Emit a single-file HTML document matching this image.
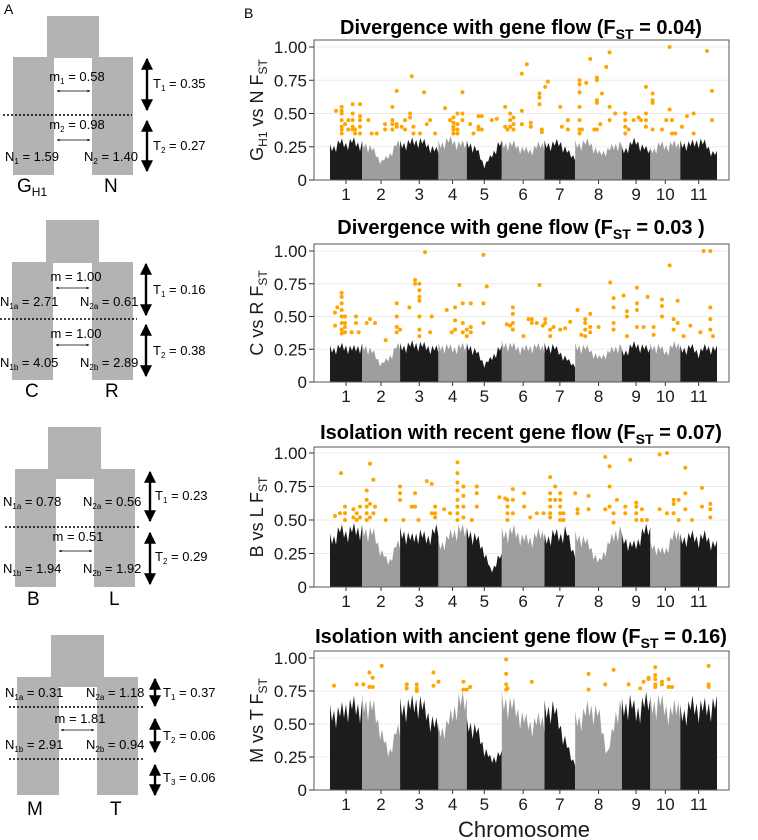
<!DOCTYPE html>
<html><head><meta charset="utf-8">
<style>
html,body{margin:0;padding:0;background:#fff;}
svg{display:block;font-family:"Liberation Sans",Arial,sans-serif;}
</style></head>
<body>
<svg id="fig" width="758" height="840" viewBox="0 0 758 840" xmlns="http://www.w3.org/2000/svg">
<defs>
<marker id="ah" viewBox="0 0 10 10" refX="8" refY="5" markerWidth="4" markerHeight="4" orient="auto-start-reverse"><path d="M0,1 L9,5 L0,9 z" fill="#000"/></marker>
<marker id="bh" viewBox="0 0 10 10" refX="9" refY="5" markerWidth="5" markerHeight="5" orient="auto-start-reverse"><path d="M0,0 L10,5 L0,10 z" fill="#000"/></marker>
</defs>
<text x="4" y="14" font-size="14">A</text>
<text x="244" y="18" font-size="14">B</text>

<g font-size="13">
<rect x="47" y="16" width="52" height="42" fill="#b3b3b3"/>
<rect x="13" y="57" width="41" height="118" fill="#b3b3b3"/>
<rect x="92" y="57" width="41" height="118" fill="#b3b3b3"/>
<line x1="3" y1="115" x2="132" y2="115" stroke="#000" stroke-width="1.6" stroke-dasharray="2,2"/>
<text x="77" y="81" text-anchor="middle">m<tspan font-size="8" dy="3">1</tspan><tspan dy="-3"> = 0.58</tspan></text>
<line x1="57" y1="91" x2="90" y2="91" stroke="#000" stroke-width="0.8" marker-start="url(#ah)" marker-end="url(#ah)"/>
<text x="77" y="129" text-anchor="middle">m<tspan font-size="8" dy="3">2</tspan><tspan dy="-3"> = 0.98</tspan></text>
<line x1="57" y1="140" x2="90" y2="140" stroke="#000" stroke-width="0.8" marker-start="url(#ah)" marker-end="url(#ah)"/>
<text x="5" y="161">N<tspan font-size="8" dy="3">1</tspan><tspan dy="-3"> = 1.59</tspan></text>
<text x="84" y="161">N<tspan font-size="8" dy="3">2</tspan><tspan dy="-3"> = 1.40</tspan></text>
<line x1="147" y1="59" x2="147" y2="110" stroke="#000" stroke-width="2.4" marker-start="url(#bh)" marker-end="url(#bh)"/>
<line x1="147" y1="121" x2="147" y2="171" stroke="#000" stroke-width="2.4" marker-start="url(#bh)" marker-end="url(#bh)"/>
<text x="153" y="88">T<tspan font-size="8" dy="3">1</tspan><tspan dy="-3"> = 0.35</tspan></text>
<text x="153" y="150">T<tspan font-size="8" dy="3">2</tspan><tspan dy="-3"> = 0.27</tspan></text>
<text x="17" y="192" font-size="19">G<tspan font-size="12" dy="4">H1</tspan></text>
<text x="104" y="192" font-size="19">N</text>
</g>

<g font-size="13">
<rect x="46" y="220" width="53" height="43" fill="#b3b3b3"/>
<rect x="12" y="262" width="41" height="118" fill="#b3b3b3"/>
<rect x="92" y="262" width="41" height="118" fill="#b3b3b3"/>
<line x1="0" y1="319" x2="137" y2="319" stroke="#000" stroke-width="1.6" stroke-dasharray="2,2"/>
<text x="76" y="281" text-anchor="middle">m = 1.00</text>
<line x1="56" y1="288" x2="89" y2="288" stroke="#000" stroke-width="0.8" marker-start="url(#ah)" marker-end="url(#ah)"/>
<text x="0" y="306">N<tspan font-size="8" dy="3">1a</tspan><tspan dy="-3"> = 2.71</tspan></text>
<text x="80" y="306">N<tspan font-size="8" dy="3">2a</tspan><tspan dy="-3"> = 0.61</tspan></text>
<text x="76" y="338" text-anchor="middle">m = 1.00</text>
<line x1="56" y1="345" x2="89" y2="345" stroke="#000" stroke-width="0.8" marker-start="url(#ah)" marker-end="url(#ah)"/>
<text x="0" y="367">N<tspan font-size="8" dy="3">1b</tspan><tspan dy="-3"> = 4.05</tspan></text>
<text x="80" y="367">N<tspan font-size="8" dy="3">2b</tspan><tspan dy="-3"> = 2.89</tspan></text>
<line x1="146" y1="264" x2="146" y2="315" stroke="#000" stroke-width="2.4" marker-start="url(#bh)" marker-end="url(#bh)"/>
<line x1="146" y1="325" x2="146" y2="376" stroke="#000" stroke-width="2.4" marker-start="url(#bh)" marker-end="url(#bh)"/>
<text x="153" y="294">T<tspan font-size="8" dy="3">1</tspan><tspan dy="-3"> = 0.16</tspan></text>
<text x="153" y="355">T<tspan font-size="8" dy="3">2</tspan><tspan dy="-3"> = 0.38</tspan></text>
<text x="25" y="397" font-size="19">C</text>
<text x="105" y="397" font-size="19">R</text>
</g>

<g font-size="13">
<rect x="48" y="427" width="53" height="43" fill="#b3b3b3"/>
<rect x="15" y="469" width="120" height="10" fill="#b3b3b3"/>
<rect x="15" y="469" width="41" height="118" fill="#b3b3b3"/>
<rect x="94" y="469" width="41" height="118" fill="#b3b3b3"/>
<line x1="5" y1="527" x2="140" y2="527" stroke="#000" stroke-width="1.6" stroke-dasharray="2,2"/>
<text x="3" y="506">N<tspan font-size="8" dy="3">1a</tspan><tspan dy="-3"> = 0.78</tspan></text>
<text x="83" y="506">N<tspan font-size="8" dy="3">2a</tspan><tspan dy="-3"> = 0.56</tspan></text>
<text x="78" y="541" text-anchor="middle">m = 0.51</text>
<line x1="59" y1="551" x2="92" y2="551" stroke="#000" stroke-width="0.8" marker-start="url(#ah)" marker-end="url(#ah)"/>
<text x="3" y="573">N<tspan font-size="8" dy="3">1b</tspan><tspan dy="-3"> = 1.94</tspan></text>
<text x="83" y="573">N<tspan font-size="8" dy="3">2b</tspan><tspan dy="-3"> = 1.92</tspan></text>
<line x1="150" y1="472" x2="150" y2="521" stroke="#000" stroke-width="2.4" marker-start="url(#bh)" marker-end="url(#bh)"/>
<line x1="150" y1="533" x2="150" y2="584" stroke="#000" stroke-width="2.4" marker-start="url(#bh)" marker-end="url(#bh)"/>
<text x="155" y="500">T<tspan font-size="8" dy="3">1</tspan><tspan dy="-3"> = 0.23</tspan></text>
<text x="155" y="561">T<tspan font-size="8" dy="3">2</tspan><tspan dy="-3"> = 0.29</tspan></text>
<text x="27" y="605" font-size="19">B</text>
<text x="109" y="605" font-size="19">L</text>
</g>

<g font-size="13">
<rect x="51" y="635" width="53" height="43" fill="#b3b3b3"/>
<rect x="17" y="677" width="121" height="10" fill="#b3b3b3"/>
<rect x="17" y="677" width="42" height="118" fill="#b3b3b3"/>
<rect x="97" y="677" width="41" height="118" fill="#b3b3b3"/>
<line x1="9" y1="707" x2="143" y2="707" stroke="#000" stroke-width="1.6" stroke-dasharray="2,2"/>
<line x1="9" y1="759" x2="143" y2="759" stroke="#000" stroke-width="1.6" stroke-dasharray="2,2"/>
<text x="5" y="697">N<tspan font-size="8" dy="3">1a</tspan><tspan dy="-3"> = 0.31</tspan></text>
<text x="86" y="697">N<tspan font-size="8" dy="3">2a</tspan><tspan dy="-3"> = 1.18</tspan></text>
<text x="80" y="723" text-anchor="middle">m = 1.81</text>
<line x1="61" y1="730" x2="94" y2="730" stroke="#000" stroke-width="0.8" marker-start="url(#ah)" marker-end="url(#ah)"/>
<text x="5" y="749">N<tspan font-size="8" dy="3">1b</tspan><tspan dy="-3"> = 2.91</tspan></text>
<text x="86" y="749">N<tspan font-size="8" dy="3">2b</tspan><tspan dy="-3"> = 0.94</tspan></text>
<line x1="155" y1="679" x2="155" y2="706" stroke="#000" stroke-width="2.4" marker-start="url(#bh)" marker-end="url(#bh)"/>
<line x1="155" y1="719" x2="155" y2="752" stroke="#000" stroke-width="2.4" marker-start="url(#bh)" marker-end="url(#bh)"/>
<line x1="155" y1="765" x2="155" y2="795" stroke="#000" stroke-width="2.4" marker-start="url(#bh)" marker-end="url(#bh)"/>
<text x="163" y="697">T<tspan font-size="8" dy="3">1</tspan><tspan dy="-3"> = 0.37</tspan></text>
<text x="163" y="740">T<tspan font-size="8" dy="3">2</tspan><tspan dy="-3"> = 0.06</tspan></text>
<text x="163" y="782">T<tspan font-size="8" dy="3">3</tspan><tspan dy="-3"> = 0.06</tspan></text>
<text x="27" y="815" font-size="19">M</text>
<text x="110" y="815" font-size="19">T</text>
</g>

<g id="plots"></g>
<text x="524" y="837" font-size="22" text-anchor="middle" fill="#1a1a1a">Chromosome</text>
</svg>
<script>
const chromLabels = ["1","2","3","4","5","6","7","8","9","10","11"];
const chromLengths = [96,114,115,85,105,128,92,140,85,90,110];
const yTicks = [0,0.25,0.5,0.75,1];
const yTickLabels = ["0","0.25","0.50","0.75","1.00"];
const panelTitles = [
  ["Divergence with gene flow (F","ST"," = 0.04)"],
  ["Divergence with gene flow (F","ST"," = 0.03 )"],
  ["Isolation with recent gene flow (F","ST"," = 0.07)"],
  ["Isolation with ancient gene flow (F","ST"," = 0.16)"]
];
const yTitles = [["G","H1"," vs  N F","ST"],["C vs R F","ST","",""],["B vs L F","ST","",""],["M vs T F","ST","",""]];
const env1 = [.27,.32,.3,.33,.3, .3,.25,.15,.2,.3, .3,.32,.33,.3,.25, .3,.33,.33,.3,.3, .3,.25,.12,.2,.3, .3,.3,.25,.25,.3, .3,.3,.32,.25,.2, .3,.32,.22,.25,.3, .25,.3,.33,.28,.25, .25,.3,.28,.3,.3, .3,.3,.33,.3,.22];
const env2 = [.28,.3,.3,.28,.3, .3,.25,.15,.2,.3, .3,.32,.32,.3,.28, .3,.3,.28,.3,.3, .3,.25,.15,.2,.28, .32,.3,.28,.3,.3, .3,.3,.25,.2,.15, .3,.28,.2,.25,.3, .25,.3,.32,.3,.28, .3,.3,.25,.3,.32, .28,.3,.25,.3,.28];
const env3 = [.4,.48,.45,.48,.48, .47,.45,.3,.2,.35, .45,.4,.45,.4,.47, .35,.4,.45,.48,.47, .45,.4,.3,.12,.25, .45,.47,.4,.4,.45, .4,.45,.42,.48,.3, .42,.35,.2,.35,.47, .4,.35,.35,.45,.48, .35,.3,.3,.4,.45, .4,.43,.4,.43,.35];
const env4 = [.65,.65,.7,.72,.7, .73,.7,.5,.3,.5, .7,.72,.75,.65,.55, .5,.55,.65,.75,.75, .55,.5,.35,.25,.3, .75,.7,.6,.55,.6, .68,.7,.55,.4,.25, .6,.7,.65,.3,.7, .7,.75,.65,.72,.75, .72,.75,.7,.65,.72, .65,.72,.7,.7,.72];
const out1 = [[18,.52],[35,.55,.52,.5,.45,.4,.38,.35],[45,.42],[55,.45,.38],[68,.57,.5,.45,.4,.38],[75,.38,.35],[90,.57,.48,.45,.4,.35],[115,.45],[125,.35],[140,.35],[165,.42,.38],[187,.55,.45,.42,.38],[200,.67,.42,.4],[215,.4],[225,.45,.38],[245,.78],[240,.5,.47],[250,.4,.35],[270,.35],[282,.66],[290,.42],[300,.45],[315,.35],[345,.54],[360,.45],[370,.47,.43,.4,.38,.35],[382,.5,.42,.38,.35],[397,.66,.5,.45],[420,.42],[430,.35],[445,.48,.4,.38],[455,.48,.38],[485,.45],[500,.46],[525,.55,.4],[532,.38],[540,.5,.45,.4],[550,.47,.42,.38],[575,.8,.52,.42],[590,.87],[602,.43,.4],[628,.65,.57,.62],[635,.38,.36],[645,.7],[653,.74],[690,.55],[695,.4],[713,.45,.38],[748,.75,.72,.66,.55,.45,.38,.35],[755,.38],[768,.73],[780,.91],[792,.38],[800,.77,.75,.6,.58,.38],[810,.42],[815,.65],[828,.85],[838,.96,.55,.45],[855,.5],[885,.45,.5,.4,.35],[895,.38],[910,.45],[925,.47],[932,.45],[947,.7,.5,.45,.4],[967,.6,.65,.58,.38],[995,.38],[1008,.45],[1018,1.0,.53],[1025,.45,.35],[1035,.35],[1055,.4],[1070,.48],[1090,.5,.35],[1130,.97],[1145,.67,.45]];
const out2 = [[15,.53,.43],[22,.57],[35,.68,.65,.6,.55,.5,.45,.4,.37],[45,.5,.45,.42,.38],[65,.38],[78,.5,.45],[86,.38],[110,.45],[120,.48],[135,.45],[167,.32],[200,.6,.5,.42,.38],[210,.4],[238,.57],[255,.78,.75],[268,.75,.7,.65,.62,.5,.4,.35],[285,.99],[305,.5],[300,.38],[350,.55],[365,.38],[375,.57,.47,.4],[388,.74],[398,.6,.45,.38],[410,.4,.35],[422,.6,.42,.38],[460,.97,.6,.45],[470,.73],[530,.44],[540,.43],[548,.57,.52,.45,.4],[580,.35],[595,.48],[605,.48,.45],[620,.45],[628,.74],[638,.43],[645,.48,.45],[660,.4,.35],[670,.42],[690,.4],[705,.41],[720,.46],[742,.55],[753,.36],[765,.48,.45,.4,.35],[780,.52,.42,.38],[805,.42],[840,.76],[850,.64,.57,.45,.4],[880,.66],[890,.54,.5,.35],[920,.72,.6,.55,.42],[940,.42],[952,.65],[970,.42,.36],[995,.63,.58,.5],[1018,.89],[1030,.48,.4],[1042,.62,.45],[1060,.35],[1080,.43],[1110,.38],[1120,1.0],[1140,1.0,.57,.48,.4],[1148,.35]];
const out3 = [[15,.53],[30,.55],[33,.85],[45,.6,.55,.5],[70,.58,.52],[80,.55,.5],[90,.6,.52],[110,.72,.65,.6,.55,.5],[120,.92,.62,.52],[130,.8,.55],[135,.6],[167,.5],[210,.7,.75,.65],[220,.5],[245,.6],[255,.7,.6],[265,.5],[290,.79],[305,.77,.55],[315,.6,.55,.52],[342,.58],[360,.55],[382,.93,.85,.78,.72,.65,.6,.55,.5],[400,.75,.68,.6,.52],[425,.5],[440,.75,.7,.6],[508,.67],[525,.66],[532,.65,.6,.55,.5],[548,.73,.65,.55],[582,.7,.6],[600,.52],[620,.55],[640,.55],[660,.82,.7,.65,.6,.55,.52],[675,.75,.65],[690,.7,.65,.6,.55,.5],[700,.55,.5],[735,.7],[742,.58,.55],[775,.68,.58],[825,.97,.58],[838,.9,.75,.6],[850,.55,.48],[860,.65],[885,.6,.55],[900,.95],[918,.63,.6,.55,.5],[935,.58,.5],[950,.5],[988,.99,.58],[1010,1.0,.55],[1030,.65,.62,.55],[1045,.65,.5],[1065,.89,.7,.58],[1085,.5],[1115,.74,.6],[1140,.62,.58,.52]];
const out4 = [[12,.79],[80,.8],[100,.8],[118,.89,.78],[128,.85,.78],[155,.94],[230,.8,.77],[260,.8,.77,.75],[310,.89,.79],[325,.82],[400,.82,.76],[410,.76],[420,.78],[528,.99,.88,.8,.76],[532,.77],[605,.82],[775,.88,.76],[825,.8],[850,.91],[895,.8],[930,.77],[940,.82],[955,.85,.84],[975,.93,.87,.84,.8,.78],[995,.82,.8],[1015,.84,.78],[1025,.78],[1135,.94,.8,.78]];

const envs = [env1,env2,env3,env4];
const outs = [out1,out2,out3,out4];
const frameTop = [40,244,447,651], zeroY = [180,382,587,790], oneY = [47,251,453,658];
const titleY = [34,234,439,643];
const X0 = 330, X1 = 717, FL = 314, FR = 729;
const NS = "http://www.w3.org/2000/svg";
const total = chromLengths.reduce((a,b)=>a+b,0);
const starts = []; {let c=0; for (const l of chromLengths){starts.push(c); c+=l;}}
const texture = [1.0, 0.8, 0.93, 0.72, 0.97, 0.85];
function xs(pos){ return X0 + pos*(X1-X0)/total; }
function mk(tag, attrs, parent){ const e=document.createElementNS(NS,tag); for(const k in attrs) e.setAttribute(k,attrs[k]); parent.appendChild(e); return e; }
const root = document.getElementById('plots');

for (let p=0;p<4;p++){
  const ys = v => zeroY[p] - v*(zeroY[p]-oneY[p]);
  const g = mk('g',{},root);
  
  
  const fr = mk('rect',{x:FL,y:frameTop[p],width:FR-FL,height:zeroY[p]-frameTop[p],fill:'#fff'},g);
  
  
  yTicks.forEach((t,i)=>{
    const gl = mk('line',{x1:FL,x2:FR,y1:ys(t),y2:ys(t),stroke:'#ebebeb','stroke-width':1},g);
    
    
    mk('line',{x1:FL-5,x2:FL,y1:ys(t),y2:ys(t),stroke:'#333','stroke-width':1},g);
    const tl = mk('text',{x:FL-7,y:ys(t)+6,'font-size':17,'text-anchor':'end',fill:'#1a1a1a'},g);
    tl.textContent = yTickLabels[i];
    
    
  });
  const env = envs[p];
  chromLengths.forEach((len,c)=>{
    const s = starts[c], bins = 5;
    const envAt = u => { // u in [0,1] within chromosome
      const f = u*bins - 0.5;
      const i0 = Math.max(0, Math.min(bins-1, Math.floor(f)));
      const i1 = Math.max(0, Math.min(bins-1, i0+1));
      const t = Math.max(0, Math.min(1, f - i0));
      return env[c*bins+i0]*(1-t) + env[c*bins+i1]*t;
    };
    const x0 = xs(s), x1 = xs(s+len);
    const n = Math.max(6, Math.round((x1-x0)/2));
    let pts = [[x0, ys(0)]];
    for (let k=0;k<=n;k++){
      const u = k/n;
      pts.push([x0+(x1-x0)*u, ys(envAt(u)*texture[k%texture.length])]);
    }
    pts.push([x1, ys(0)]);
    const poly = mk('polygon',{points:pts.map(q=>q[0].toFixed(1)+','+q[1].toFixed(1)).join(' '),fill:c%2===0?'#1c1c1c':'#9e9e9e'},g);
    
    
    mk('line',{x1:xs(s+len/2),x2:xs(s+len/2),y1:zeroY[p],y2:zeroY[p]+4,stroke:'#333'},g);
    const lb = mk('text',{x:xs(s+len/2),y:zeroY[p]+20,'font-size':17,'text-anchor':'middle',fill:'#1a1a1a'},g);
    lb.textContent = chromLabels[c];
    
    
  });
  outs[p].forEach(row=>{
    for (let k=1;k<row.length;k++){
      const d = mk('circle',{cx:xs(row[0]),cy:ys(row[k]),r:2,fill:'#ffa500'},g);
      
      
    }
  });
  const bd = mk('rect',{x:FL,y:frameTop[p],width:FR-FL,height:zeroY[p]-frameTop[p],fill:'none',stroke:'#555','stroke-width':1},g);
  
  
  const tt = mk('text',{x:521,y:titleY[p],'font-size':20,'font-weight':'bold','text-anchor':'middle',fill:'#000'},g);
  
  
  const t = panelTitles[p];
  mk('tspan',{},tt).textContent = t[0];
  mk('tspan',{'font-size':14,dy:5},tt).textContent = t[1];
  mk('tspan',{dy:-5},tt).textContent = t[2];
  const cy = (frameTop[p]+zeroY[p])/2;
  const yt = mk('text',{x:0,y:0,'font-size':18,'text-anchor':'middle',fill:'#1a1a1a',transform:'translate(263,'+cy+') rotate(-90)'},g);
  
  
  const yl = yTitles[p];
  mk('tspan',{},yt).textContent = yl[0];
  mk('tspan',{'font-size':12,dy:4},yt).textContent = yl[1];
  if (yl[2]) { mk('tspan',{dy:-4},yt).textContent = yl[2]; mk('tspan',{'font-size':12,dy:4},yt).textContent = yl[3]; }
}
</script>
</body></html>
